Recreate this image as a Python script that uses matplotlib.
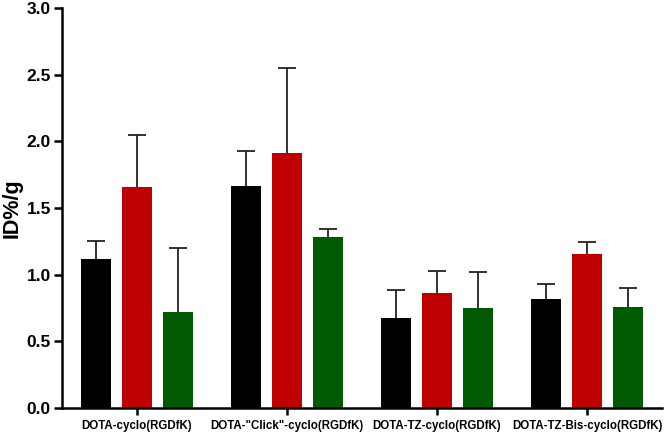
import numpy as np
import matplotlib
matplotlib.use("Agg")
import matplotlib.pyplot as plt

plt.rcParams['font.family'] = ['Liberation Sans', 'DejaVu Sans']

# --- data ---
groups = ['DOTA-cyclo(RGDfK)', 'DOTA-"Click"-cyclo(RGDfK)',
          'DOTA-TZ-cyclo(RGDfK)', 'DOTA-TZ-Bis-cyclo(RGDfK)']
black_vals = [1.115, 1.665, 0.675, 0.815]
black_err = [0.14, 0.26, 0.207, 0.117]
red_vals = [1.655, 1.91, 0.865, 1.157]
red_err = [0.393, 0.643, 0.16, 0.09]
green_vals = [0.718, 1.285, 0.75, 0.757]
green_err = [0.48, 0.058, 0.27, 0.14]

series = [
    (black_vals, black_err, '#000000'),
    (red_vals, red_err, '#BE0000'),
    (green_vals, green_err, '#005A00'),
]

fig = plt.figure(figsize=(6.66, 4.32), dpi=100)
ax = fig.add_axes([0.093, 0.0556, 0.901, 0.926])

x = np.arange(len(groups))
width = 0.2
step = 0.272
for i, (vals, err, col) in enumerate(series):
    pos = x + (i - 1) * step
    ax.bar(pos, vals, width, color=col, edgecolor='none', zorder=2)
    # upper-only error bars: no cap at the bar top
    _, caps, _ = ax.errorbar(pos, vals, yerr=[np.zeros(len(err)), err], fmt='none',
                             ecolor='#222222', elinewidth=1.3, capsize=6.5,
                             capthick=1.3, zorder=1)
    for c in caps:
        if np.allclose(c.get_ydata(), vals):
            c.set_visible(False)

ax.set_xlim(-0.5, 3.5)
ax.set_ylim(0, 3.0)
ax.set_yticks(np.arange(0, 3.01, 0.5))
ax.set_yticklabels([f'{v:.1f}' for v in np.arange(0, 3.01, 0.5)],
                   fontsize=12.5, fontweight='bold')
ax.set_xticks(x)
ax.set_xticklabels(groups, fontsize=8.3, fontweight='bold')
ax.set_ylabel('ID%/g', fontsize=15.5, fontweight='bold', labelpad=3)

for s in ['top', 'right']:
    ax.spines[s].set_visible(False)
for s in ['left', 'bottom']:
    ax.spines[s].set_linewidth(1.8)
ax.tick_params(axis='y', direction='out', length=6, width=1.8, pad=2)
ax.tick_params(axis='x', direction='out', length=5, width=1.8, pad=4)

fig.savefig('out.png', dpi=100)
